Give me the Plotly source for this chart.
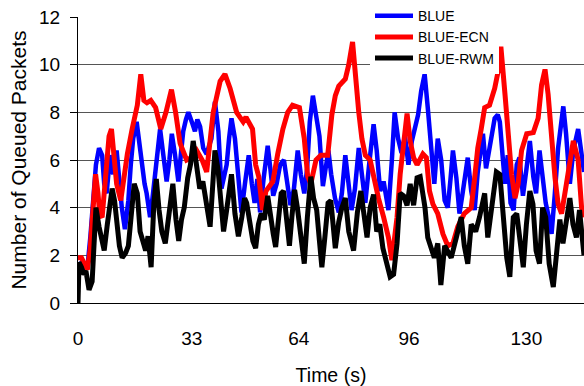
import plotly.graph_objects as go

# ---- data ----
t_blue = [0,1.0,2.0,2.8,3.6,4.4,5.2,6.1,7.0,7.6,
          8.3,9.3,10.2,11.2,12.0,12.7,13.6,14.6,15.3,16.0,
          17.0,17.8,18.5,19.3,19.9,20.9,21.6,22.3,23.0,23.8,
          24.7,25.7,26.5,27.2,28.1,29.1,29.8,30.5,31.3,32.0,
          33.0,33.9,34.6,35.4,36.3,37.3,38.0,38.7,39.7,40.7,
          41.6,42.3,43.1,43.8,44.5,45.5,46.5,47.4,48.4,49.5,
          50.4,51.2,52.0,52.8,53.8,55.0,55.8,56.6,57.6,58.6,
          59.7,60.6,61.6,62.6,63.7,64.6,65.6,66.4,67.2,68.1,
          69.0,70.0,71.0,71.8,72.6,73.4,74.5,75.6,76.5,77.5,
          78.4,79.3,80.3,81.4,82.3,83.3,84.4,85.7,86.6,87.6,
          88.6,90.0,91.0,91.8,92.8,93.8,94.8,95.8,96.8,97.7,
          98.6,99.5,100.5,101.4,102.4,103.3,104.3,105.3,106.3,107.2,
          108.0,108.7,109.7,110.6,111.5,113.0,114.0,115.0,115.9,117.4,
          118.3,119.3,120.8,121.7,122.3,123.2,123.8,124.6,125.4,126.3,
          127.2,128.0,129.0,130.0,131.0,132.0,132.8,133.8,134.8,135.6,
          136.5,137.3,138.2,139.2,140.7,141.5,142.6,143.6,145.0,146.0,
          146.7]
v_blue = [1.5,1.7,1.5,1.6,2.8,4.2,5.8,6.5,6.2,5.0,
          4.6,6.2,5.4,6.4,4.8,4.0,3.1,4.3,5.8,6.9,
          7.6,6.6,6.0,5.0,4.6,3.6,4.4,5.25,6.3,7.3,
          6.25,5.1,6.0,7.1,6.25,5.1,6.2,7.2,7.7,8.0,
          7.6,7.2,7.7,7.4,6.5,6.25,6.6,6.9,8.45,7.2,
          4.8,5.2,5.8,6.9,7.75,6.9,5.25,3.8,5.0,6.2,
          5.0,4.2,5.2,3.8,5.2,6.6,5.6,4.5,5.0,5.8,
          6.0,5.0,4.1,4.8,6.4,5.4,4.6,5.6,7.6,8.7,
          8.0,7.0,4.9,5.8,6.4,5.4,4.4,3.8,4.6,6.2,
          5.0,3.9,4.8,6.5,5.4,4.2,5.8,7.5,6.4,4.7,
          5.1,3.9,6.0,8.0,6.9,6.3,7.0,5.8,6.8,7.4,
          7.9,8.9,9.6,8.2,6.4,5.0,6.9,6.0,4.3,4.0,
          5.2,6.4,5.25,3.75,4.6,6.1,4.7,3.9,5.5,7.1,
          5.65,6.4,7.75,7.9,7.6,6.0,5.0,6.2,4.2,3.9,
          5.8,6.1,4.5,5.6,6.8,5.3,4.6,6.4,5.0,4.2,
          3.6,2.9,4.5,6.5,8.25,7.1,5.0,6.4,7.3,6.0,
          5.5]

t_ecn = [0,1,2,2.7,3.5,4.0,4.5,5.1,5.8,6.3,
         7.0,7.8,8.5,9.0,9.7,10.4,11.2,12.4,13.2,14.3,
         15.7,17.2,18.2,19.1,20.0,21.1,22.5,24.0,25.5,27.1,
         28.3,29.6,31.5,33.0,34.4,36.0,37.3,38.3,39.2,41.2,
         42.6,44.1,46.0,47.9,48.7,50.6,51.5,52.4,53.5,54.5,
         56.5,57.9,59.4,60.8,62.2,64.2,65.6,66.6,67.5,69.0,
         70.4,72.4,73.6,74.6,75.6,77.5,78.5,79.6,80.4,81.4,
         82.3,83.3,84.7,85.7,87.1,88.6,90.0,91.0,92.5,93.4,
         94.4,95.4,96.3,97.3,98.3,100.0,101.0,101.9,102.9,104.3,
         105.8,107.2,108.7,110.1,112.0,114.0,115.0,115.9,116.9,117.9,
         119.3,120.8,122.2,122.6,123.8,124.7,125.7,126.7,127.6,128.6,
         130.1,132.0,133.4,134.4,135.4,136.3,137.3,138.3,139.2,140.2,
         141.6,142.6,143.6,145.0,146.0,146.7]
v_ecn = [1.9,1.9,1.6,1.4,2.2,3.3,4.5,5.4,4.6,3.7,
         3.6,5.0,6.3,7.0,7.3,6.2,5.0,4.3,5.3,6.25,
         7.3,8.3,9.6,8.5,8.4,8.5,8.2,7.3,8.0,8.95,
         8.0,6.7,6.0,6.1,6.4,6.0,5.5,6.8,8.0,9.3,
         9.6,9.0,8.0,7.6,7.8,7.3,5.8,5.3,3.9,4.7,
         5.1,6.25,7.3,8.0,8.3,8.2,6.9,5.3,5.0,6.0,
         6.2,6.2,7.9,8.7,9.1,9.4,10.0,10.95,9.4,8.0,
         6.9,6.2,6.0,5.25,4.4,3.6,2.75,1.8,3.6,5.4,
         6.9,7.95,6.8,6.1,5.8,6.25,6.1,4.7,4.15,3.75,
         2.9,2.4,2.5,3.2,3.75,4.0,5.25,6.5,7.3,8.2,
         8.3,9.0,10.0,10.75,8.75,7.1,5.4,4.4,5.0,6.4,
         7.1,7.15,7.75,9.15,9.8,8.75,6.9,5.25,4.15,3.75,
         5.0,6.0,6.8,6.0,4.0,3.6]

t_rwm = [0,0.3,1.0,1.7,2.3,3.2,4.1,4.7,5.2,6.1,
         6.9,7.6,8.5,9.9,10.6,11.3,12.0,12.8,13.8,14.6,
         15.4,16.3,17.2,18.0,18.8,19.6,20.3,21.2,22.0,22.7,
         23.5,24.3,25.3,26.2,26.9,27.5,28.4,29.2,30.0,30.8,
         31.8,32.6,33.4,34.3,35.3,36.2,37.3,38.3,39.0,39.7,
         40.6,41.3,42.2,43.0,43.8,44.5,45.5,46.5,47.5,48.3,
         48.9,49.8,50.7,51.5,52.3,53.1,54.0,55.0,55.8,56.6,
         57.3,58.0,58.9,59.6,60.4,61.3,62.0,62.8,63.6,64.4,
         65.6,66.5,67.5,68.3,69.2,70.0,70.7,71.6,72.5,73.3,
         74.6,75.6,76.5,77.5,78.5,79.9,81.0,82.0,83.0,83.8,
         84.7,85.7,86.6,87.5,88.4,89.6,90.5,91.5,92.5,93.4,
         94.4,95.4,96.3,97.3,98.3,99.2,100.0,100.6,101.4,102.4,
         103.3,104.3,105.2,106.3,107.2,108.2,109.7,111.1,112.0,113.0,
         114.0,115.3,116.4,117.9,118.8,119.8,121.3,122.3,123.2,124.3,
         125.2,126.2,127.2,128.1,129.1,130.0,131.0,131.9,132.8,133.8,
         134.7,135.6,136.6,137.8,138.7,139.7,140.6,141.6,142.6,143.5,
         144.5,145.4,146.3,146.7]
v_rwm = [0.0,1.7,1.5,1.2,1.35,0.55,0.9,2.8,4.0,3.2,
         2.7,2.2,3.3,4.8,4.3,3.2,2.4,1.9,2.1,2.4,
         3.8,5.0,4.6,3.0,2.6,2.2,2.8,1.5,4.2,5.2,
         3.9,3.0,2.5,3.6,4.6,5.0,3.5,2.6,3.5,4.0,
         5.25,5.8,6.8,5.8,4.8,5.1,4.0,3.2,4.8,6.4,
         5.6,4.2,3.0,3.8,4.6,5.4,3.75,2.8,3.6,4.4,
         4.2,3.4,2.6,2.3,3.3,3.75,3.5,4.5,3.6,2.9,
         2.35,3.4,4.6,4.7,3.4,2.4,3.6,4.75,4.0,3.0,
         1.65,3.6,5.3,4.4,3.9,2.6,1.5,2.8,4.2,4.3,
         2.3,3.4,4.0,4.4,3.0,2.2,3.8,4.7,3.6,2.75,
         4.0,4.55,3.0,3.3,2.3,1.65,1.1,1.2,2.5,4.6,
         4.5,4.1,5.0,4.1,5.25,5.3,4.5,4.0,2.75,2.2,
         1.9,2.5,0.75,2.4,2.2,1.9,2.75,3.6,2.4,1.65,
         3.3,3.0,3.6,4.6,2.75,4.0,5.5,5.4,3.9,1.9,
         1.1,3.6,3.75,2.5,1.5,3.3,4.7,4.15,2.2,1.65,
         4.0,3.6,1.65,0.67,1.9,3.5,2.5,3.6,4.4,3.3,
         2.75,3.9,2.4,2.0]

x_ticks = [0, 33, 64, 96, 130]
y_ticks = [0, 2, 4, 6, 8, 10, 12]

FONT = "Liberation Sans, Arial, sans-serif"

fig = go.Figure()
fig.add_trace(go.Scatter(x=t_blue, y=v_blue, mode="lines", name="BLUE",
                         line=dict(color="#0000ff", width=4.5)))
fig.add_trace(go.Scatter(x=t_ecn, y=v_ecn, mode="lines", name="BLUE-ECN",
                         line=dict(color="#ff0000", width=5)))
fig.add_trace(go.Scatter(x=t_rwm, y=v_rwm, mode="lines", name="BLUE-RWM",
                         line=dict(color="#000000", width=5)))

fig.update_layout(
    width=584, height=386,
    margin=dict(l=78, r=0, t=15, b=83),
    paper_bgcolor="white", plot_bgcolor="white",
    font=dict(family=FONT, color="black"),
    showlegend=True,
    legend=dict(x=(370-78)/506, y=1+17/288, xanchor="left", yanchor="top",
                bgcolor="white", borderwidth=0, itemwidth=38,
                font=dict(size=14, family=FONT, color="black"),
                tracegroupgap=0),
    xaxis=dict(range=[0, 146.7], tickvals=x_ticks, ticks="",
               showgrid=False, zeroline=False,
               showline=True, linecolor="black", linewidth=1,
               tickfont=dict(size=19), ticklabelstandoff=18,
               title=dict(text="Time (s)", font=dict(size=19.5), standoff=20)),
    yaxis=dict(range=[0, 12], tickvals=y_ticks, ticks="outside", ticklen=7,
               tickcolor="black", showgrid=True, gridcolor="#555555", gridwidth=1,
               zeroline=False, showline=True, linecolor="black", linewidth=1,
               tickfont=dict(size=19), ticklabelstandoff=6,
               title=dict(text="Number of Queued Packets", font=dict(size=21), standoff=6)),
)

fig.write_html("out.html")
